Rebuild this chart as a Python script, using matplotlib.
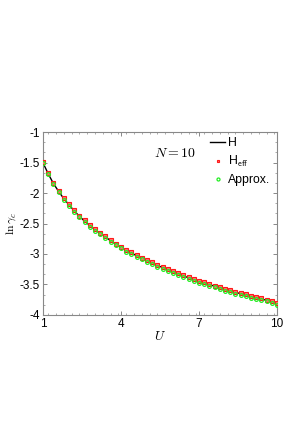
import matplotlib
matplotlib.use("Agg")
import matplotlib.pyplot as plt
import numpy as np
from matplotlib.ticker import MultipleLocator

plt.rcParams['font.family'] = ['Liberation Sans', 'DejaVu Sans']
plt.rcParams['mathtext.fontset'] = 'cm'

U = [1.0, 1.2, 1.4, 1.6, 1.8, 2.0, 2.2, 2.4, 2.6, 2.8,
     3.0, 3.2, 3.4, 3.6, 3.8, 4.0, 4.2, 4.4, 4.6, 4.8,
     5.0, 5.2, 5.4, 5.6, 5.8, 6.0, 6.2, 6.4, 6.6, 6.8,
     7.0, 7.2, 7.4, 7.6, 7.8, 8.0, 8.2, 8.4, 8.6, 8.8,
     9.0, 9.2, 9.4, 9.6, 9.8, 10.0]

lng_H = [-1.50, -1.68, -1.84, -1.97, -2.09, -2.19, -2.29, -2.38, -2.46, -2.53,
         -2.60, -2.66, -2.72, -2.78, -2.84, -2.89, -2.94, -2.98, -3.03, -3.07,
         -3.11, -3.15, -3.19, -3.22, -3.26, -3.29, -3.32, -3.36, -3.39, -3.42,
         -3.45, -3.47, -3.50, -3.53, -3.55, -3.58, -3.60, -3.63, -3.65, -3.67,
         -3.70, -3.72, -3.74, -3.76, -3.79, -3.81]

lng_Heff = [-1.49, -1.67, -1.83, -1.96, -2.08, -2.18, -2.28, -2.37, -2.45, -2.52,
            -2.59, -2.65, -2.71, -2.77, -2.83, -2.88, -2.93, -2.97, -3.02, -3.06,
            -3.10, -3.14, -3.18, -3.21, -3.25, -3.28, -3.31, -3.35, -3.38, -3.41,
            -3.44, -3.46, -3.49, -3.52, -3.54, -3.57, -3.59, -3.62, -3.64, -3.66,
            -3.69, -3.71, -3.73, -3.75, -3.78, -3.80]

lng_approx = [-1.51, -1.69, -1.85, -1.99, -2.11, -2.21, -2.31, -2.40, -2.48, -2.55,
              -2.62, -2.68, -2.74, -2.80, -2.86, -2.91, -2.96, -3.00, -3.05, -3.09,
              -3.13, -3.17, -3.21, -3.24, -3.28, -3.31, -3.34, -3.38, -3.41, -3.44,
              -3.47, -3.49, -3.52, -3.55, -3.57, -3.60, -3.62, -3.65, -3.67, -3.69,
              -3.72, -3.74, -3.76, -3.78, -3.81, -3.83]

fig = plt.figure(figsize=(3.0, 4.29), dpi=100)
ax = fig.add_axes([0.143, 0.266, 0.78, 0.426])

ax.plot(U, lng_H, color='black', lw=1.0, label='H', zorder=2)
ax.plot(U, lng_Heff, 's', ms=2.6, mfc='#ff7070', mec='#ff1a1a', mew=0.8,
        label=r'H$_{\mathsf{eff}}$', zorder=3)
ax.plot(U, lng_approx, 'o', ms=2.7, mfc='none', mec='#22ee22', mew=0.9,
        label='Approx.', zorder=4)

ax.set_xlim(1, 10)
ax.set_ylim(-4, -1)
ax.set_xticks([1, 4, 7, 10])
ax.set_xticklabels(['1', '4', '7', '10'])
ax.set_yticks([-4, -3.5, -3, -2.5, -2, -1.5, -1])
ax.set_yticklabels(['-4', '-3.5', '-3', '-2.5', '-2', '-1.5', '-1'])
ax.xaxis.set_minor_locator(MultipleLocator(0.3))
ax.yaxis.set_minor_locator(MultipleLocator(0.5 / 3))
ax.tick_params(which='both', direction='in', top=True, right=True,
               color='#888888', labelsize=8.5, pad=2)
ax.tick_params(which='major', length=3, width=0.7)
ax.tick_params(which='minor', length=1.5, width=0.5)
for s in ax.spines.values():
    s.set_color('#888888')
    s.set_linewidth(0.8)

ax.set_xlabel(r'$U$', fontsize=9.5, labelpad=0)
ax.set_ylabel(r'$\ln\gamma_c$', fontsize=8.5, labelpad=1)

ax.text(0.565, 0.885, r'$N=10$', transform=ax.transAxes, fontsize=10,
        ha='center', va='center')

ax.legend(loc='upper left', bbox_to_anchor=(0.705, 0.985), frameon=False,
          fontsize=8.8, handlelength=1.2, handletextpad=0.25,
          labelspacing=0.4, borderaxespad=0.0, borderpad=0.2,
          markerscale=0.8)

fig.savefig('out.png', dpi=100)
